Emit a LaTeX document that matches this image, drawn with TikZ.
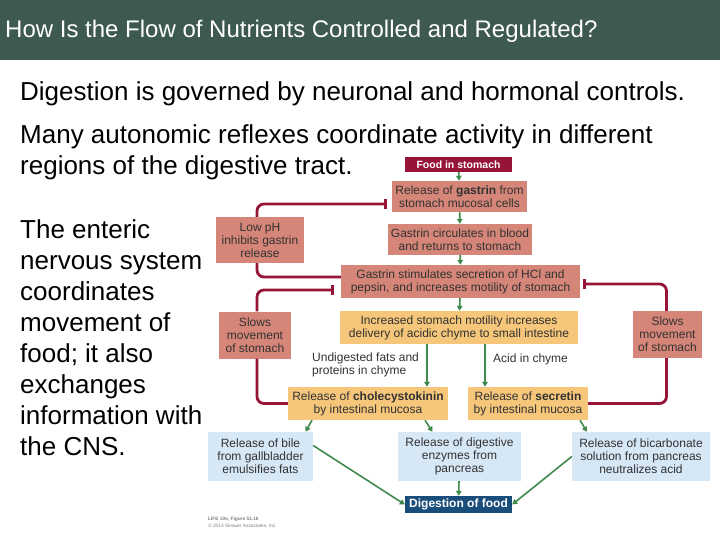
\documentclass[tikz,border=0pt]{standalone}
\usepackage{fontspec}
\setmainfont{Liberation Sans}
\usetikzlibrary{arrows.meta}

\begin{document}
\begin{tikzpicture}[x=1pt, y=-1pt,
		box/.style={rectangle, inner sep=1pt, align=center, text=boxtext, font=\fontsize{12}{13}\selectfont},
		redbox/.style={box, fill=salmon},
		amberbox/.style={box, fill=amber},
		bluebox/.style={box, fill=paleblue},
		tagbox/.style={rectangle, inner sep=1pt, text=white, font=\bfseries},
		body/.style={inner sep=0pt, align=left, font=\fontsize{26}{31}\selectfont},
		arr/.style={draw=leaf, line width=1.6pt, -{Triangle[length=5pt, width=5.5pt]}},
		inh/.style={draw=wine, line width=2.8pt, rounded corners=7pt}
	]
	
	% ==========================================
	% COLOURS & PAGE
	% ==========================================
	\definecolor{titlebar}{RGB}{62,90,78}
	\definecolor{salmon}{RGB}{214,134,120}
	\definecolor{amber}{RGB}{246,198,122}
	\definecolor{paleblue}{RGB}{214,231,246}
	\definecolor{wine}{RGB}{150,20,55}
	\definecolor{navy}{RGB}{25,78,122}
	\definecolor{leaf}{RGB}{64,138,78}
	\definecolor{boxtext}{RGB}{50,50,50}
	
	\useasboundingbox (0,0) rectangle (720,540);
	\fill[white] (0,0) rectangle (720,540);
	
	% ==========================================
	% TITLE & SLIDE TEXT
	% ==========================================
	\fill[titlebar] (0,0) rectangle (720,60);
	\node[anchor=west, inner sep=0pt, text=white, font=\fontsize{24}{28}\selectfont] (title) at (5,31) {How Is the Flow of Nutrients Controlled and Regulated?};
	
	\node[body, anchor=base west] (intro) at (20,101) {Digestion is governed by neuronal and hormonal controls.};
	\node[body, anchor=north west] (reflex) at (20,124) {Many autonomic reflexes coordinate activity in different\\regions of the digestive tract.};
	\node[body, anchor=north west] (enteric) at (20,219) {The enteric\\nervous system\\coordinates\\movement of\\food; it also\\exchanges\\information with\\the CNS.};
	
	% ==========================================
	% GASTRIN PATHWAY
	% ==========================================
	\node[tagbox, fill=wine, minimum width=107pt, minimum height=15pt, font=\fontsize{10.5}{12}\selectfont\bfseries] (food) at (458.5,164.5) {Food in stomach};
	\node[redbox, minimum width=135pt, minimum height=31pt] (gastrel) at (459.5,196.5) {Release of \textbf{gastrin} from\\stomach mucosal cells};
	\node[redbox, minimum width=144pt, minimum height=31pt] (circ) at (460,239.5) {Gastrin circulates in blood\\and returns to stomach};
	\node[redbox, minimum width=239pt, minimum height=33pt] (stim) at (460.5,281.5) {Gastrin stimulates secretion of HCl and\\pepsin, and increases motility of stomach};
	\node[amberbox, minimum width=238pt, minimum height=33pt] (incr) at (459,327.5) {Increased stomach motility increases\\delivery of acidic chyme to small intestine};
	
	% side boxes
	\node[redbox, minimum width=88pt, minimum height=46pt] (lowph) at (260,240) {Low pH\\inhibits gastrin\\release};
	\node[redbox, minimum width=72pt, minimum height=47pt] (slowL) at (255,335) {Slows\\movement\\of stomach};
	\node[redbox, minimum width=69pt, minimum height=47pt] (slowR) at (667.5,334.5) {Slows\\movement\\of stomach};
	
	% ==========================================
	% INTESTINAL HORMONES
	% ==========================================
	\node[box, anchor=west, align=left, inner sep=0pt] (undig) at (312,365) {Undigested fats and\\proteins in chyme};
	\node[box, anchor=west, inner sep=0pt] (acid) at (493,359) {Acid in chyme};
	
	\node[amberbox, minimum width=160pt, minimum height=33pt] (cck) at (368,403.5) {Release of \textbf{cholecystokinin}\\by intestinal mucosa};
	\node[amberbox, minimum width=120pt, minimum height=33pt] (sec) at (528,403.5) {Release of \textbf{secretin}\\by intestinal mucosa};
	
	\node[bluebox, minimum width=105pt, minimum height=49pt] (bile) at (260.5,456.5) {Release of bile\\from gallbladder\\emulsifies fats};
	\node[bluebox, minimum width=123pt, minimum height=49pt] (enz) at (459.5,456.5) {Release of digestive\\enzymes from\\pancreas};
	\node[bluebox, minimum width=138pt, minimum height=49pt] (bicarb) at (641,456.5) {Release of bicarbonate\\solution from pancreas\\neutralizes acid};
	
	\node[tagbox, fill=navy, minimum width=107pt, minimum height=17pt, font=\fontsize{12}{14}\selectfont\bfseries] (dig) at (458.5,504.5) {Digestion of food};
	
	% credit line
	\node[anchor=north west, inner sep=0pt, align=left, text=gray, font=\fontsize{4.8}{6.5}\selectfont] (credit) at (208,517) {\textbf{LIFE 10e, Figure 51.16}\\\copyright{} 2014 Sinauer Associates, Inc.};
	
	% ==========================================
	% STIMULATING ARROWS
	% ==========================================
	\draw[arr] (food) -- (gastrel);
	\draw[arr] (gastrel) -- (circ);
	\draw[arr] (circ) -- (stim);
	\draw[arr] (stim) -- (incr);
	\draw[arr] ([xshift=-32pt]incr.south) -- ([xshift=-32pt]incr.south |- cck.north);
	\draw[arr] ([xshift=26pt]incr.south) -- ([xshift=26pt]incr.south |- sec.north);
	
	\draw[arr] ([xshift=-56pt]cck.south) -- ([xshift=45pt]bile.north);
	\draw[arr] ([xshift=57pt]cck.south) -- ([xshift=-27pt]enz.north);
	\draw[arr] ([xshift=52pt]sec.south) -- ([xshift=-54pt]bicarb.north);
	
	\draw[arr] ([yshift=11pt]bile.east) -- (dig.west);
	\draw[arr] (enz) -- (dig);
	\draw[arr] (bicarb.west) -- (dig.east);
	
	% ==========================================
	% INHIBITING LINES
	% ==========================================
	\draw[inh, -{Bar[width=10pt]}] ([xshift=-3pt]lowph.north) |- ([xshift=-5pt, yshift=-7.5pt]gastrel.west);
	\draw[inh] ([xshift=-3pt]lowph.south) |- ([yshift=4.5pt]stim.west);
	\draw[inh, -{Bar[width=10pt]}] ([xshift=2pt]slowL.north) |- ([xshift=-7pt, yshift=-8.5pt]stim.west);
	\draw[inh] ([xshift=2pt]slowL.south) |- (cck.west);
	\draw[inh] (sec.east) -| ([xshift=-1pt]slowR.south);
	\draw[inh, -{Bar[width=10pt]}] ([xshift=-1pt]slowR.north) |- ([xshift=3pt, yshift=-2.5pt]stim.east);
	
\end{tikzpicture}
\end{document}
